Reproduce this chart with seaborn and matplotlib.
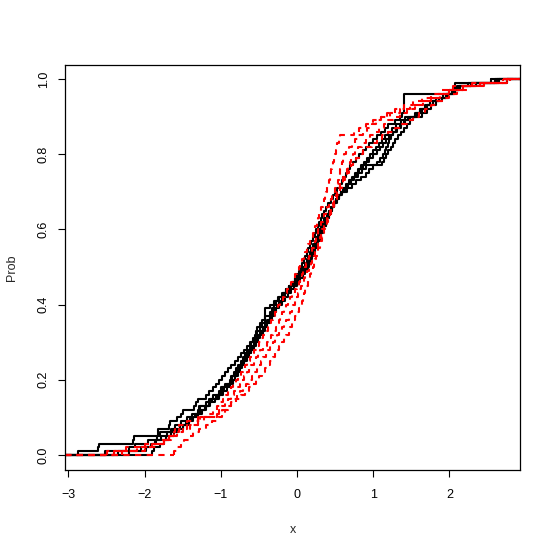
import numpy as np
import pandas as pd
import matplotlib
matplotlib.use("Agg")
import matplotlib.pyplot as plt
import seaborn as sns

# ---- data ----
black_1 = [-2.87, -2.61, -2.60, -2.15, -2.14, -1.83, -1.82, -1.68, -1.67, -1.57,
           -1.52, -1.50, -1.35, -1.33, -1.30, -1.20, -1.15, -1.10, -1.06, -1.02,
           -0.98, -0.94, -0.90, -0.86, -0.82, -0.78, -0.74, -0.70, -0.66, -0.62,
           -0.58, -0.55, -0.52, -0.52, -0.46, -0.46, -0.42, -0.42, -0.42, -0.36,
           -0.30, -0.25, -0.20, -0.15, -0.10, -0.06, -0.03, 0.00, 0.03, 0.05,
           0.07, 0.09, 0.11, 0.13, 0.15, 0.17, 0.19, 0.21, 0.23, 0.25,
           0.27, 0.29, 0.31, 0.33, 0.35, 0.38, 0.41, 0.44, 0.47, 0.50,
           0.53, 0.56, 0.59, 0.61, 0.64, 0.67, 0.70, 0.74, 0.78, 0.82,
           0.86, 0.90, 0.95, 1.00, 1.05, 1.10, 1.15, 1.20, 1.28, 1.35,
           1.38, 1.41, 1.41, 1.41, 1.41, 1.41, 2.07, 2.07, 2.07, 2.75]
black_2 = [-2.52, -2.20, -2.13, -1.95, -1.84, -1.80, -1.66, -1.60, -1.52, -1.44,
           -1.38, -1.30, -1.27, -1.20, -1.14, -1.10, -1.03, -0.99, -0.94, -0.88,
           -0.86, -0.83, -0.80, -0.77, -0.74, -0.71, -0.68, -0.65, -0.62, -0.60,
           -0.57, -0.54, -0.54, -0.48, -0.48, -0.42, -0.42, -0.36, -0.33, -0.30,
           -0.27, -0.23, -0.19, -0.15, -0.11, -0.07, -0.03, 0.01, 0.05, 0.08,
           0.11, 0.13, 0.15, 0.17, 0.19, 0.21, 0.23, 0.25, 0.27, 0.29,
           0.31, 0.33, 0.36, 0.39, 0.42, 0.45, 0.48, 0.51, 0.55, 0.59,
           0.63, 0.67, 0.71, 0.75, 0.80, 0.85, 0.90, 1.12, 1.14, 1.17,
           1.20, 1.23, 1.26, 1.29, 1.32, 1.36, 1.40, 1.44, 1.48, 1.52,
           1.56, 1.62, 1.68, 1.75, 1.83, 1.92, 2.00, 2.10, 2.25, 2.55]
black_3 = [-2.20, -1.98, -1.90, -1.85, -1.72, -1.65, -1.58, -1.50, -1.42, -1.36,
           -1.30, -1.25, -1.19, -1.14, -1.08, -1.02, -0.97, -0.92, -0.88, -0.84,
           -0.82, -0.79, -0.76, -0.73, -0.70, -0.67, -0.64, -0.61, -0.58, -0.56,
           -0.53, -0.50, -0.47, -0.44, -0.41, -0.38, -0.35, -0.32, -0.29, -0.26,
           -0.23, -0.20, -0.16, -0.12, -0.08, -0.04, 0.00, 0.04, 0.07, 0.10,
           0.12, 0.14, 0.14, 0.19, 0.19, 0.23, 0.26, 0.26, 0.30, 0.32,
           0.34, 0.36, 0.38, 0.40, 0.42, 0.45, 0.48, 0.51, 0.54, 0.58,
           0.62, 0.66, 0.70, 0.74, 0.78, 0.82, 0.86, 0.90, 0.95, 1.00,
           1.05, 1.09, 1.13, 1.17, 1.21, 1.26, 1.31, 1.36, 1.42, 1.48,
           1.55, 1.62, 1.70, 1.78, 1.86, 1.95, 2.04, 2.12, 2.28, 2.60]
black_4 = [-1.90, -1.88, -1.80, -1.74, -1.68, -1.62, -1.56, -1.50, -1.45, -1.40,
           -1.34, -1.28, -1.28, -1.16, -1.16, -1.06, -1.00, -1.00, -0.90, -0.85,
           -0.82, -0.78, -0.75, -0.72, -0.69, -0.66, -0.63, -0.60, -0.57, -0.54,
           -0.51, -0.48, -0.45, -0.42, -0.39, -0.36, -0.33, -0.30, -0.27, -0.24,
           -0.20, -0.16, -0.12, -0.08, -0.04, 0.00, 0.04, 0.08, 0.11, 0.14,
           0.16, 0.18, 0.20, 0.22, 0.24, 0.26, 0.28, 0.30, 0.32, 0.34,
           0.36, 0.38, 0.40, 0.42, 0.44, 0.46, 0.48, 0.51, 0.54, 0.58,
           0.66, 0.72, 0.78, 0.84, 0.90, 0.95, 1.00, 1.05, 1.09, 1.13,
           1.15, 1.17, 1.19, 1.21, 1.23, 1.26, 1.30, 1.35, 1.40, 1.46,
           1.58, 1.64, 1.70, 1.78, 1.86, 1.95, 2.05, 2.14, 2.35, 2.65]
black_5 = [-2.35, -2.05, -1.92, -1.86, -1.78, -1.70, -1.63, -1.54, -1.46, -1.39,
           -1.33, -1.27, -1.21, -1.16, -1.11, -1.05, -1.00, -0.96, -0.92, -0.87,
           -0.85, -0.81, -0.78, -0.75, -0.72, -0.69, -0.66, -0.63, -0.60, -0.57,
           -0.54, -0.51, -0.48, -0.45, -0.42, -0.39, -0.36, -0.33, -0.30, -0.26,
           -0.22, -0.18, -0.18, -0.10, -0.10, -0.02, 0.02, 0.02, 0.09, 0.12,
           0.14, 0.16, 0.18, 0.20, 0.22, 0.24, 0.26, 0.28, 0.30, 0.33,
           0.36, 0.38, 0.40, 0.42, 0.44, 0.46, 0.49, 0.52, 0.55, 0.58,
           0.61, 0.64, 0.68, 0.72, 0.76, 0.80, 0.84, 0.88, 0.92, 0.96,
           1.00, 1.04, 1.08, 1.12, 1.16, 1.20, 1.25, 1.30, 1.36, 1.42,
           1.64, 1.70, 1.76, 1.83, 1.90, 1.98, 2.06, 2.13, 2.28, 2.62]

red_1 = [-2.40, -2.10, -1.90, -1.75, -1.68, -1.62, -1.60, -1.55, -1.45, -1.30,
         -1.05, -0.98, -0.92, -0.86, -0.80, -0.74, -0.68, -0.63, -0.58, -0.54,
         -0.50, -0.46, -0.42, -0.38, -0.35, -0.32, -0.29, -0.26, -0.23, -0.20,
         -0.17, -0.14, -0.11, -0.09, -0.06, -0.04, -0.02, 0.00, 0.02, 0.04,
         0.06, 0.08, 0.09, 0.11, 0.12, 0.14, 0.15, 0.17, 0.19, 0.21,
         0.22, 0.24, 0.25, 0.27, 0.28, 0.30, 0.31, 0.33, 0.34, 0.36,
         0.37, 0.39, 0.41, 0.43, 0.45, 0.47, 0.49, 0.51, 0.53, 0.55,
         0.57, 0.59, 0.61, 0.63, 0.65, 0.68, 0.71, 0.74, 0.78, 0.82,
         0.86, 0.92, 0.98, 1.05, 1.12, 1.20, 1.28, 1.36, 1.44, 1.52,
         1.60, 1.68, 1.76, 1.84, 1.92, 2.00, 2.10, 2.25, 2.45, 2.80]
red_2 = [-2.30, -2.00, -1.85, -1.72, -1.65, -1.58, -1.50, -1.40, -1.30, -1.22,
         -1.15, -1.10, -1.05, -1.01, -0.97, -0.93, -0.90, -0.87, -0.84, -0.80,
         -0.77, -0.74, -0.71, -0.68, -0.65, -0.62, -0.59, -0.56, -0.53, -0.50,
         -0.47, -0.44, -0.41, -0.38, -0.36, -0.34, -0.31, -0.29, -0.27, -0.25,
         -0.22, -0.19, -0.16, -0.13, -0.10, -0.08, -0.05, -0.03, 0.00, 0.02,
         0.04, 0.06, 0.09, 0.11, 0.13, 0.15, 0.17, 0.19, 0.21, 0.22,
         0.24, 0.26, 0.28, 0.29, 0.31, 0.32, 0.34, 0.35, 0.37, 0.38,
         0.39, 0.40, 0.42, 0.43, 0.44, 0.45, 0.46, 0.47, 0.48, 0.50,
         0.51, 0.52, 0.53, 0.55, 0.56, 0.75, 0.82, 0.90, 1.00, 1.10,
         1.22, 1.35, 1.48, 1.60, 1.72, 1.85, 2.00, 2.18, 2.40, 2.75]
red_3 = [-1.62, -1.58, -1.52, -1.48, -1.42, -1.36, -1.28, -1.20, -1.12, -1.04,
         -0.99, -0.95, -0.91, -0.87, -0.83, -0.79, -0.75, -0.71, -0.67, -0.63,
         -0.59, -0.56, -0.53, -0.50, -0.47, -0.44, -0.41, -0.38, -0.35, -0.32,
         -0.29, -0.26, -0.23, -0.20, -0.17, -0.14, -0.11, -0.09, -0.07, -0.05,
         -0.03, -0.01, 0.01, 0.03, 0.05, 0.07, 0.09, 0.11, 0.13, 0.16,
         0.18, 0.20, 0.22, 0.24, 0.26, 0.27, 0.28, 0.30, 0.31, 0.33,
         0.35, 0.37, 0.39, 0.41, 0.43, 0.45, 0.47, 0.49, 0.51, 0.53,
         0.55, 0.57, 0.59, 0.61, 0.63, 0.65, 0.67, 0.69, 0.71, 0.73,
         0.76, 0.80, 0.85, 0.90, 0.96, 1.02, 1.08, 1.14, 1.20, 1.27,
         1.35, 1.45, 1.55, 1.65, 1.76, 1.88, 2.02, 2.18, 2.40, 2.75]
red_4 = [-2.50, -2.25, -2.00, -1.80, -1.70, -1.62, -1.55, -1.45, -1.30, -1.27,
         -1.05, -1.02, -0.99, -0.95, -0.91, -0.87, -0.83, -0.79, -0.75, -0.72,
         -0.69, -0.66, -0.63, -0.60, -0.57, -0.54, -0.51, -0.48, -0.44, -0.40,
         -0.37, -0.34, -0.31, -0.28, -0.26, -0.24, -0.22, -0.20, -0.17, -0.15,
         -0.12, -0.09, -0.06, -0.03, 0.00, 0.02, 0.04, 0.06, 0.08, 0.10,
         0.12, 0.14, 0.16, 0.18, 0.20, 0.22, 0.24, 0.25, 0.27, 0.28,
         0.30, 0.32, 0.34, 0.36, 0.38, 0.40, 0.42, 0.44, 0.46, 0.48,
         0.50, 0.52, 0.54, 0.55, 0.56, 0.57, 0.58, 0.59, 0.60, 0.62,
         0.64, 0.68, 0.72, 0.76, 0.80, 0.86, 0.92, 0.98, 1.04, 1.10,
         1.18, 1.28, 1.40, 1.52, 1.64, 1.76, 1.90, 2.05, 2.30, 2.70]

black_series = [black_1, black_2, black_3, black_4, black_5]
red_series = [red_1, red_2, red_3, red_4]

x_ticks = [-3, -2, -1, 0, 1, 2]
y_ticks = [0.0, 0.2, 0.4, 0.6, 0.8, 1.0]
y_tick_labels = ["0.0", "0.2", "0.4", "0.6", "0.8", "1.0"]

# ---- style ----
sns.set_theme(style="white")
plt.rcParams["font.family"] = ["Liberation Sans", "DejaVu Sans"]
plt.rcParams["axes.edgecolor"] = "black"
plt.rcParams["axes.linewidth"] = 0.9

fig = plt.figure(figsize=(5.54, 5.52), dpi=100)
ax = fig.add_axes([65 / 554, 1 - 470 / 552, (520 - 65) / 554, (470 - 65) / 552])

XMIN, XMAX = -3.045, 2.927

def draw(values, color, ls, dashes=None):
    sns.ecdfplot(x=np.array(values), ax=ax, color=color, linewidth=1.5, linestyle=ls)
    line = ax.lines[-1]
    if dashes is not None:
        line.set_dashes(dashes)
    # extend the step function to both edges of the plot region, as R does
    kw = dict(color=color, linewidth=1.5, linestyle=ls)
    l1, = ax.plot([XMIN, min(values)], [0, 0], **kw)
    l2, = ax.plot([max(values), XMAX], [1, 1], **kw)
    if dashes is not None:
        l1.set_dashes(dashes)
        l2.set_dashes(dashes)

for s in black_series:
    draw(s, "black", "-")
for s in red_series:
    draw(s, "red", "--", dashes=(3.0, 2.6))

ax.set_xlim(XMIN, XMAX)
ax.set_ylim(-0.04, 1.037)
ax.set_xticks(x_ticks)
ax.set_yticks(y_ticks)
ax.set_yticklabels(y_tick_labels, rotation=90, va="center")
ax.tick_params(axis="both", which="both", direction="out", length=5, width=0.8,
               labelsize=9, colors="black", bottom=True, left=True)
ax.tick_params(axis="x", pad=9)
ax.tick_params(axis="y", pad=6)
for sp in ax.spines.values():
    sp.set_visible(True)
    sp.set_color("black")
ax.set_xlabel("x", fontsize=9, labelpad=16)
ax.set_ylabel("Prob", fontsize=9, labelpad=14)
ax.grid(False)

fig.savefig("out.png", dpi=100)
